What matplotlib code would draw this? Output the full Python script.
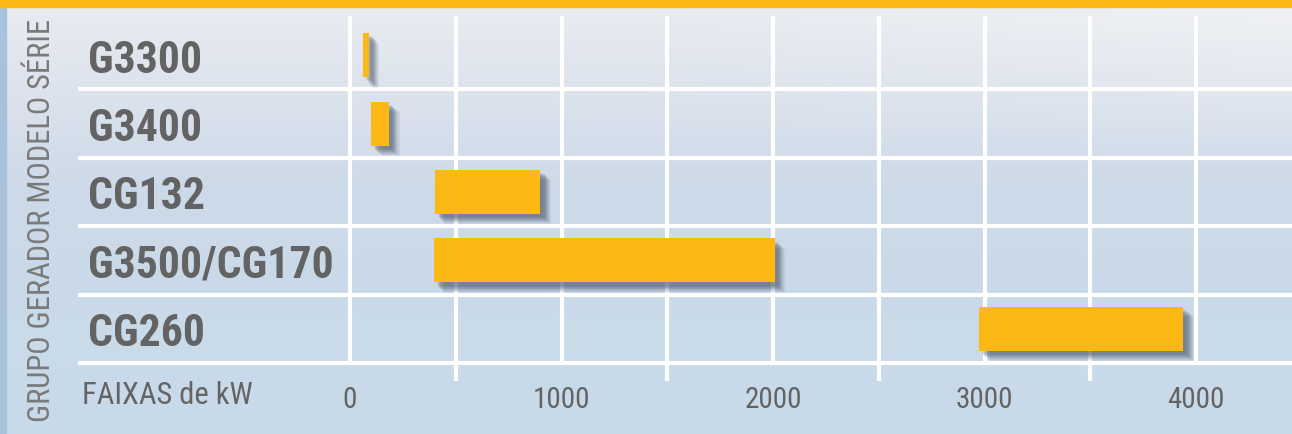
import matplotlib
matplotlib.use('Agg')
import matplotlib.pyplot as plt
import numpy as np
from matplotlib import patheffects as pe
from matplotlib.colors import to_rgb
from matplotlib.ticker import FixedLocator

# ---- data ----
categories = ['G3300', 'G3400', 'CG132', 'G3500/CG170', 'CG260']
range_start = [60, 100, 400, 395, 2975]
range_end = [90, 185, 900, 2010, 3940]
tick_values = [0, 1000, 2000, 3000, 4000]
tick_labels = ['0', '1000', '2000', '3000', '4000']
minor_tick_values = [500, 1500, 2500, 3500]
x_label = 'FAIXAS de kW'
y_label = 'GRUPO GERADOR MODELO SÉRIE'

FONT = ['Roboto Condensed', 'Liberation Sans Narrow', 'Roboto', 'DejaVu Sans']
plt.rcParams['font.family'] = FONT

W, H = 1292, 435
fig = plt.figure(figsize=(W / 100, H / 100), dpi=100)

# ---- background (sky-like gradient) ----
bg = fig.add_axes([0, 0, 1, 1])
bg.set_axis_off()
yy = np.linspace(0, 1, 200)[:, None]
xx = np.linspace(0, 1, 400)[None, :]
top = np.array(to_rgb('#eaecf1'))
mid = np.array(to_rgb('#ccd9e8'))
bot = np.array(to_rgb('#c8dbeb'))
t1 = np.clip(yy / 0.45, 0, 1)[..., None]
t2 = np.clip((yy - 0.45) / 0.55, 0, 1)[..., None]
img = np.where(yy[..., None] < 0.45, top * (1 - t1) + mid * t1, mid * (1 - t2) + bot * t2)
img = np.broadcast_to(img, (200, 400, 3)).copy()
bright = np.clip(1 - yy / 0.35, 0, 1) * np.clip((xx - 0.5) / 0.5, 0, 1)
img += (np.array(to_rgb('#f4f5f7')) - img) * (bright[..., None] * 0.6)
bg.imshow(img, extent=[0, 1, 0, 1], aspect='auto', interpolation='bilinear', zorder=0)
bg.set_xlim(0, 1)
bg.set_ylim(0, 1)
bg.add_patch(plt.Rectangle((0, 0), 6 / W, 1, color='#a9c2dc', zorder=1))
bg.add_patch(plt.Rectangle((0, 1 - 8 / H), 1, 8 / H, color='#FDB913', zorder=2))

# ---- main axes ----
left_px, right_px, top_px, bottom_px = 78, 1292, 17, 364
zero_px = 350
px_per_kw = 0.2115
ax = fig.add_axes([left_px / W, (H - bottom_px) / H, (right_px - left_px) / W, (bottom_px - top_px) / H])
ax.patch.set_alpha(0)
xmin = -(zero_px - left_px) / px_per_kw
xmax = (right_px - zero_px) / px_per_kw
ax.set_xlim(xmin, xmax)
row_px = (bottom_px - 22) / len(categories)
ax.set_ylim(-0.5, -0.5 + (bottom_px - top_px) / row_px)
for s in ax.spines.values():
    s.set_visible(False)

ypos = np.arange(len(categories))[::-1]

# grid
ax.xaxis.set_major_locator(FixedLocator(tick_values))
ax.xaxis.set_minor_locator(FixedLocator(minor_tick_values))
ax.set_xticklabels(tick_labels)
ax.grid(True, axis='x', which='both', color='white', lw=3, zorder=1)
ax.tick_params(axis='x', which='major', length=0, pad=16, labelsize=21, labelcolor='#646464')
ax.tick_params(axis='x', which='minor', length=13, width=3, color='white', direction='out')
seps = np.arange(len(categories)) - 0.5
ax.hlines(seps, xmin, xmax, color='white', lw=3, zorder=1, clip_on=False)

# category labels
ax.set_yticks(ypos)
ax.set_yticklabels(categories)
ax.tick_params(axis='y', length=0, pad=-7.5, labelsize=31.5, labelcolor='#636363')
for lab in ax.get_yticklabels():
    lab.set_ha('left')
    lab.set_fontweight('bold')

# bars with soft shadow
shadow = []
for o, a in [(10, 0.07), (9, 0.09), (8, 0.11), (7, 0.13), (6, 0.15), (5, 0.16), (4, 0.16), (3, 0.12)]:
    shadow.append(pe.SimplePatchShadow(offset=(o * 0.75, -o * 0.75), shadow_rgbFace='#4e5a6c', alpha=a))
widths = np.array(range_end) - np.array(range_start)
ax.barh(ypos, widths, left=range_start, height=0.645, color='#FDB913', zorder=3,
        path_effects=shadow + [pe.Normal()])

# axis texts
fig.text(82 / W, (H - 396) / H, x_label, ha='left', va='center', fontsize=22, color='#646464')
fig.text(42 / W, (H - 220) / H, y_label, ha='center', va='center', rotation=90, fontsize=22, color='#7a7a7a')

fig.savefig('out.png', dpi=100)
